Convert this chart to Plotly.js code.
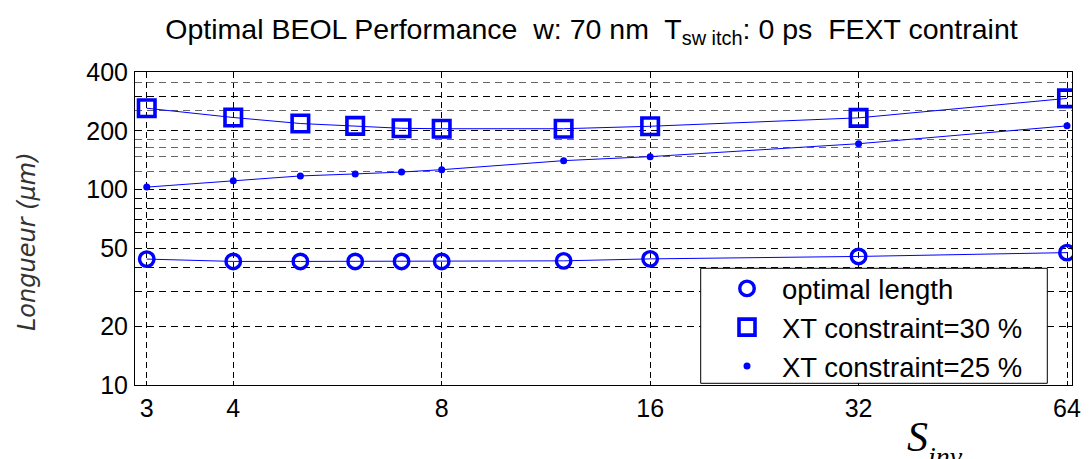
<!DOCTYPE html>
<html>
<head>
<meta charset="utf-8">
<script src="https://cdn.plot.ly/plotly-3.0.1.min.js"></script>
<style>
html,body{margin:0;padding:0;background:#fff;}
#chart{width:1091px;height:459px;}
</style>
</head>
<body>
<div id="chart"></div>
<script>
// ---- data ----
const sInv = [3, 4, 5, 6, 7, 8, 12, 16, 32, 64];
const optimalLength = [44.1, 42.9, 42.9, 42.9, 42.9, 42.9, 43.2, 44.2, 45.5, 47.6];
const xt30 = [261, 234, 218, 212, 206, 205, 205, 211, 233, 293];
const xt25 = [103, 111, 117.5, 120.3, 123, 126.5, 140.7, 147.5, 171.8, 212];

const seriesNames = ['optimal length', 'XT constraint=30 %', 'XT constraint=25 %'];

const xTickVals = [3, 4, 8, 16, 32, 64];
const xTickText = ['3', '4', '8', '16', '32', '64'];
const yTickVals = [10, 20, 30, 40, 50, 60, 70, 80, 90, 100, 200, 300, 400];
const yTickText = ['10', '20', '', '', '50', '', '', '', '', '100', '200', '', '400'];
const yExtraGrid = [123.6, 147.3, 164.3, 181, 253.5, 354];

const BLUE = '#0000ff';

// ---- layout geometry (pixels) ----
const W = 1091, H = 459;
const L = 135, R = 1072, T = 72, B = 385;
const pw = R - L, ph = B - T;
const px = v => (v - L) / pw;
const py = v => (B - v) / ph;

const lineTrace = (y) => ({
  x: sInv, y: y, xaxis: 'x', yaxis: 'y2', mode: 'lines', type: 'scatter',
  line: {color: BLUE, width: 1}, showlegend: false, hoverinfo: 'skip'
});

const traces = [
  lineTrace(optimalLength),
  lineTrace(xt30),
  lineTrace(xt25),
  {x: sInv, y: optimalLength, name: seriesNames[0], mode: 'markers', type: 'scatter',
   marker: {symbol: 'circle-open', size: 14.5, color: BLUE, line: {color: BLUE, width: 3.4}}},
  {x: sInv, y: xt30, name: seriesNames[1], mode: 'markers', type: 'scatter',
   marker: {symbol: 'square-open', size: 16.5, color: BLUE, line: {color: BLUE, width: 3.6}}},
  {x: sInv, y: xt25, name: seriesNames[2], mode: 'markers', type: 'scatter',
   marker: {symbol: 'circle', size: 7, color: BLUE, line: {width: 0}}}
];

const tickFont = {family: 'Arial, "Liberation Sans", sans-serif', size: 25, color: '#000'};
const yRange = [1, Math.log10(400)];

const layout = {
  width: W, height: H,
  margin: {l: L, r: W - R, t: T, b: H - B, pad: 0},
  paper_bgcolor: '#fff', plot_bgcolor: '#fff',
  showlegend: true,
  title: {
    text: 'Optimal BEOL Performance  w: 70 nm  T<sub>sw itch</sub>: 0 ps  FEXT contraint',
    font: {family: 'Arial, "Liberation Sans", sans-serif', size: 28.5, color: '#000'},
    x: 591.5 / W, xanchor: 'center', xref: 'container',
    y: 1 - 29 / H, yanchor: 'middle', yref: 'container'
  },
  xaxis: {
    type: 'log', range: [Math.log10(2.885), Math.log10(65.07)],
    tickvals: xTickVals, ticktext: xTickText, tickfont: tickFont,
    ticks: 'inside', ticklen: 4, tickcolor: '#000',
    showline: true, linecolor: '#000', linewidth: 1, mirror: 'ticks',
    showgrid: true, gridcolor: '#000', gridwidth: 1, griddash: '6px,4px',
    zeroline: false, ticklabelstandoff: 1
  },
  yaxis: {
    type: 'log', range: yRange,
    tickvals: yTickVals, ticktext: yTickText, tickfont: tickFont,
    ticks: 'inside', ticklen: 4, tickcolor: '#000',
    showline: true, linecolor: '#000', linewidth: 1, mirror: 'ticks',
    showgrid: true, gridcolor: '#000', gridwidth: 1, griddash: '7px,5px',
    zeroline: false, ticklabelstandoff: 1
  },
  yaxis2: {
    type: 'log', range: yRange, overlaying: 'y', anchor: 'x', side: 'left',
    tickvals: yExtraGrid, showticklabels: false, ticks: '',
    showgrid: true, gridcolor: '#666', gridwidth: 1, griddash: '7px,5px',
    showline: false, zeroline: false
  },
  legend: {
    x: px(712), y: py(264), xanchor: 'left', yanchor: 'top',
    bgcolor: 'rgba(0,0,0,0)', borderwidth: 0,
    font: {family: 'Arial, "Liberation Sans", sans-serif', size: 27.5, color: '#000'},
    itemwidth: 60, tracegroupgap: 0
  },
  shapes: [{
    type: 'rect', xref: 'paper', yref: 'paper', layer: 'above',
    x0: px(700.7), x1: px(1047.3), y0: py(383.3), y1: py(268.3),
    fillcolor: '#fff', line: {color: '#000', width: 1}
  }],
  annotations: [
    {text: 'Longueur (<i>μ</i>m)', xref: 'paper', yref: 'paper',
     x: px(27), y: py(242), xanchor: 'center', yanchor: 'middle', textangle: -90,
     showarrow: false,
     font: {family: '"DejaVu Sans", sans-serif', size: 24, color: '#333', style: 'italic'}},
    {text: '<i>S</i>', xref: 'paper', yref: 'paper',
     x: px(905), y: py(437), xanchor: 'left', yanchor: 'middle',
     showarrow: false,
     font: {family: '"Liberation Serif", "Times New Roman", serif', size: 42, color: '#000'}},
    {text: '<i>inv</i>', xref: 'paper', yref: 'paper',
     x: px(926), y: py(456), xanchor: 'left', yanchor: 'middle',
     showarrow: false,
     font: {family: '"Liberation Serif", "Times New Roman", serif', size: 28, color: '#000'}}
  ]
};

Plotly.newPlot('chart', traces, layout, {displayModeBar: false, staticPlot: true});
</script>
</body>
</html>
